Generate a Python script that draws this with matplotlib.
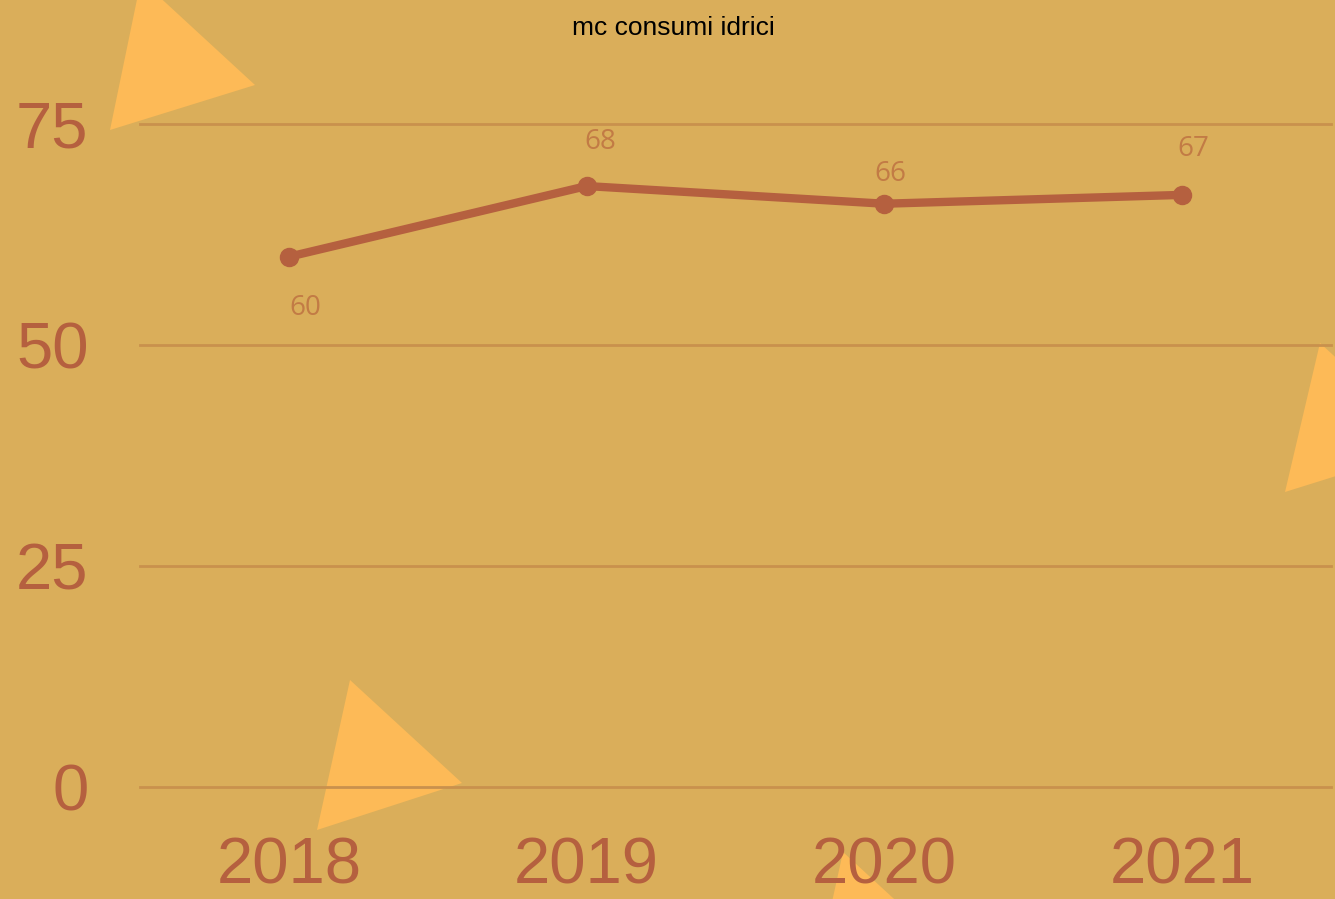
import matplotlib.pyplot as plt
from matplotlib.patches import Polygon

years = ['2018', '2019', '2020', '2021']
consumi = [60, 68, 66, 67]
y_ticks = [0, 25, 50, 75]

bg = '#DAAE5A'
tri_color = '#FDBA57'
line_color = '#B5603F'
grid_color = '#C9914D'
label_color = '#C27B45'

W, H = 1335, 899
fig = plt.figure(figsize=(W / 100, H / 100), dpi=100)
fig.patch.set_facecolor(bg)

# triangoli decorativi (coordinate in pixel, origine in alto)
triangoli = [
    [(141, -20), (255, 85), (110, 130)],
    [(350, 680), (462, 783), (317, 830)],
    [(1320, 343), (1432, 446), (1285, 492)],
    [(843, 852), (955, 955), (810, 1002)],
]
for tri in triangoli:
    pts = [(x / W, 1 - y / H) for x, y in tri]
    fig.patches.append(Polygon(pts, closed=True, transform=fig.transFigure,
                               facecolor=tri_color, edgecolor='none', zorder=0))

# area del grafico: x 140-1331, y 0 -> 787px, 80 -> ~80px
ax = fig.add_axes([140 / W, 1 - 787 / H, (1331 - 140) / W, (787 - 80) / H])
ax.set_facecolor('none')
ax.set_zorder(1)

x = list(range(len(years)))
ax.plot(x, consumi, color=line_color, linewidth=6, marker='o', markersize=13,
        solid_capstyle='round')

# spostamento delle etichette (pixel)
offsets = [(16, -51), (14, 44), (6, 30), (11, 46)]
for xi, v, off in zip(x, consumi, offsets):
    ax.annotate(str(v), (xi, v), xytext=off, textcoords='offset pixels',
                ha='center', va='center', fontsize=20, color=label_color,
                family='Open Sans')

ax.set_xlim(-0.5, 3.5)
ax.set_ylim(0, 80)
ax.set_yticks(y_ticks)
ax.set_xticks(x)
ax.set_xticklabels(years)
ax.yaxis.grid(True, color=grid_color, linewidth=2)
for gl in ax.get_ygridlines():
    gl.set_clip_on(False)
ax.set_axisbelow(True)
for s in ax.spines.values():
    s.set_visible(False)
ax.tick_params(axis='both', length=0, colors=line_color)
ax.tick_params(axis='y', pad=37, labelsize=47)
ax.tick_params(axis='x', labelsize=47, pad=36)
for lbl in ax.get_xticklabels() + ax.get_yticklabels():
    lbl.set_family('Liberation Sans')

fig.text(673 / W, 1 - 28 / H, 'mc consumi idrici', ha='center', va='center',
         fontsize=19, color='black', family='Liberation Sans')

fig.savefig('out.png', dpi=100, facecolor=bg)
